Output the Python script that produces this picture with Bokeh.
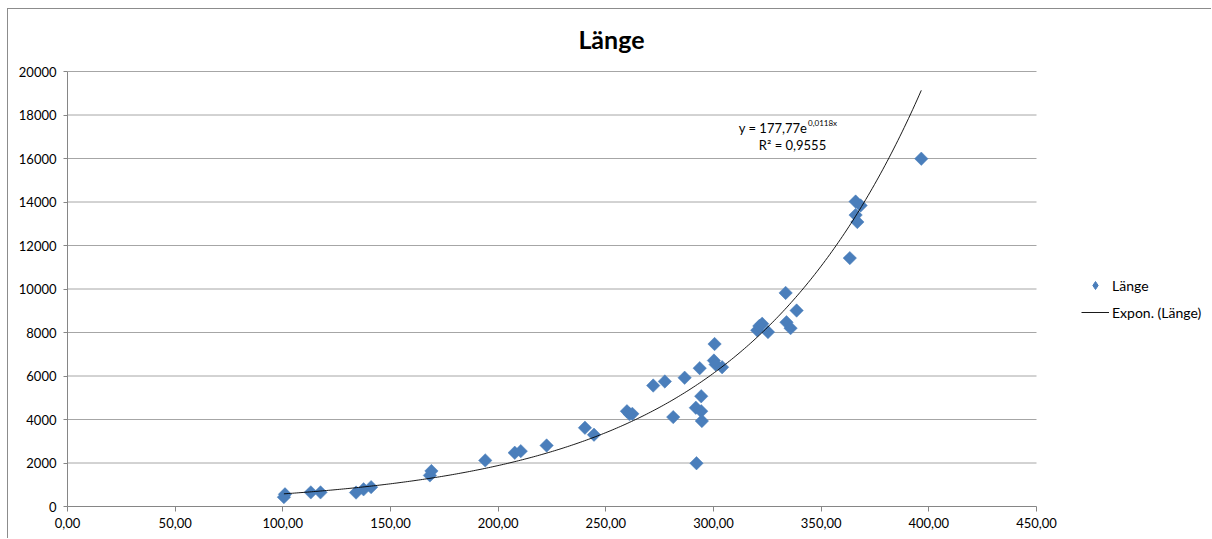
import numpy as np
from bokeh.plotting import figure
from bokeh.models import (ColumnDataSource, FixedTicker, Legend, LegendItem,
                          Label, Range1d)
from bokeh.embed import file_html
from bokeh.resources import INLINE

# ---- data -----------------------------------------------------------------
title_text = "Länge"
series_name = "Länge"
trend_name = "Expon. (Länge)"

laenge_x = [100.5, 101.0, 113.0, 117.5, 134.0, 137.5, 141.0, 168.3, 169.0,
            194.0, 207.7, 210.5, 222.5, 240.3, 244.5, 259.8, 261.0, 262.3,
            272.0, 277.4, 281.3, 286.6, 292.1, 291.8, 294.3, 294.3, 294.6,
            293.6, 300.5, 300.2, 301.0, 304.0, 320.3, 321.3, 322.6, 325.3,
            333.5, 338.6, 333.9, 335.8, 363.3, 366.0, 368.3, 366.0, 366.8,
            396.5]
laenge_y = [430, 560, 650, 650, 640, 790, 890, 1430, 1630,
            2120, 2470, 2545, 2805, 3620, 3300, 4380, 4250, 4260,
            5560, 5750, 4110, 5920, 1990, 4540, 5070, 4380, 3930,
            6360, 7470, 6710, 6530, 6405, 8100, 8300, 8400, 8020,
            9820, 9010, 8470, 8200, 11420, 14020, 13840, 13400, 13080,
            15990]

# exponential trend y = a * exp(b * x)
trend_a = 177.77
trend_b = 0.0118
r_squared = 0.9555

x_ticks = [0, 50, 100, 150, 200, 250, 300, 350, 400, 450]
x_tick_labels = ["0,00", "50,00", "100,00", "150,00", "200,00", "250,00",
                 "300,00", "350,00", "400,00", "450,00"]
y_ticks = [0, 2000, 4000, 6000, 8000, 10000, 12000, 14000, 16000, 18000, 20000]
y_tick_labels = ["0", "2000", "4000", "6000", "8000", "10000", "12000",
                 "14000", "16000", "18000", "20000"]

# ---- layout -------------------------------------------------------------------
FONT = "Lato"
BLUE = "#4A7EBB"
AXIS_GREY = "#868686"
GRID_GREY = "#A6A6A6"
FRAME_GREY = "#8C8C8C"

CANVAS_W, CANVAS_H = 1204, 530
LEFT_PAD, BOTTOM_PAD = 59, 33          # room for the axes
PLOT_W, PLOT_H = 969, 435              # pixel size of the 0..450 x 0..20000 area
X_MAX, Y_MAX = x_ticks[-1], y_ticks[-1]

# the frame also hosts title, legend and equation, so the ranges run past the
# axis extents; the axes themselves are bounded to the value area
x_end = X_MAX * (CANVAS_W - LEFT_PAD) / PLOT_W
y_end = Y_MAX * (CANVAS_H - BOTTOM_PAD) / PLOT_H


def de_num(v, digits):
    return f"{v:.{digits}f}".replace(".", ",")


p = figure(width=CANVAS_W, height=CANVAS_H, title=None,
           x_range=Range1d(0, x_end), y_range=Range1d(0, y_end),
           output_backend="svg", toolbar_location=None,
           min_border_left=LEFT_PAD, min_border_right=0,
           min_border_top=0, min_border_bottom=BOTTOM_PAD,
           background_fill_color="white", border_fill_color="white",
           outline_line_color=None)
# chart area border (left and top edge visible)
p.margin = (8, 0, 0, 7)
p.styles = {"border-left": f"1px solid {FRAME_GREY}",
            "border-top": f"1px solid {FRAME_GREY}"}

# axes
p.xaxis.ticker = FixedTicker(ticks=x_ticks)
p.xaxis.major_label_overrides = dict(zip(x_ticks, x_tick_labels))
p.xaxis.bounds = (0, X_MAX)
p.yaxis.ticker = FixedTicker(ticks=y_ticks)
p.yaxis.major_label_overrides = dict(zip(y_ticks, y_tick_labels))
p.yaxis.bounds = (0, Y_MAX)
for ax in (p.xaxis, p.yaxis):
    ax.axis_line_color = AXIS_GREY
    ax.major_tick_line_color = AXIS_GREY
    ax.minor_tick_line_color = None
    ax.major_tick_in = 0
    ax.major_label_text_font = FONT
    ax.major_label_text_font_size = "13px"
    ax.major_label_text_color = "#000000"
p.xaxis.major_tick_out = 5
p.xaxis.major_label_standoff = 6
p.yaxis.major_tick_out = 4
p.yaxis.major_label_standoff = 7

# horizontal gridlines limited to the value area
p.xgrid.visible = False
p.ygrid.visible = False
grid_y = y_ticks[1:]
p.segment(x0=[0] * len(grid_y), x1=[X_MAX] * len(grid_y), y0=grid_y, y1=grid_y,
          line_color=GRID_GREY, line_width=1)

# measured points
src = ColumnDataSource(dict(x=laenge_x, y=laenge_y))
# narrow diamond under each point, used as the legend symbol
proxy = p.scatter("x", "y", source=src, marker="diamond", size=8,
                  fill_color=BLUE, line_color=BLUE)
p.scatter("x", "y", source=src, marker="square", size=9.5, angle=np.pi / 4,
          fill_color=BLUE, line_color=BLUE, line_width=0.5)

# exponential trend line over the data span
tx = np.linspace(min(laenge_x), max(laenge_x), 300)
ty = trend_a * np.exp(trend_b * tx)
trend = p.line(tx, ty, line_color="#000000", line_width=0.9)

legend = Legend(items=[LegendItem(label=series_name, renderers=[proxy]),
                       LegendItem(label=trend_name, renderers=[trend])],
                location=(1014, 184), orientation="vertical",
                margin=0, padding=0, spacing=7,
                glyph_width=28, glyph_height=20, label_standoff=3,
                label_height=20,
                label_text_font=FONT, label_text_font_size="14px",
                label_text_color="#000000",
                border_line_color=None, background_fill_alpha=0)
p.add_layout(legend)

# title
p.add_layout(Label(x=252.6, y=21517, text=title_text, text_align="center",
                   text_baseline="middle", text_font=FONT,
                   text_font_size="25px", text_font_style="bold",
                   text_color="#000000"))

# trend equation and R²
p.add_layout(Label(x=343.5, y=17425,
                   text=f"y = {de_num(trend_a, 2)}e",
                   text_align="right", text_baseline="middle",
                   text_font=FONT, text_font_size="13px", text_color="#000000"))
p.add_layout(Label(x=343.9, y=17640,
                   text=f"{de_num(trend_b, 4)}x",
                   text_align="left", text_baseline="middle",
                   text_font=FONT, text_font_size="8px", text_color="#000000"))
p.add_layout(Label(x=336.7, y=16600,
                   text=f"R² = {de_num(r_squared, 4)}",
                   text_align="center", text_baseline="middle",
                   text_font=FONT, text_font_size="13px", text_color="#000000"))

open("out.html", "w").write(file_html(p, INLINE))
